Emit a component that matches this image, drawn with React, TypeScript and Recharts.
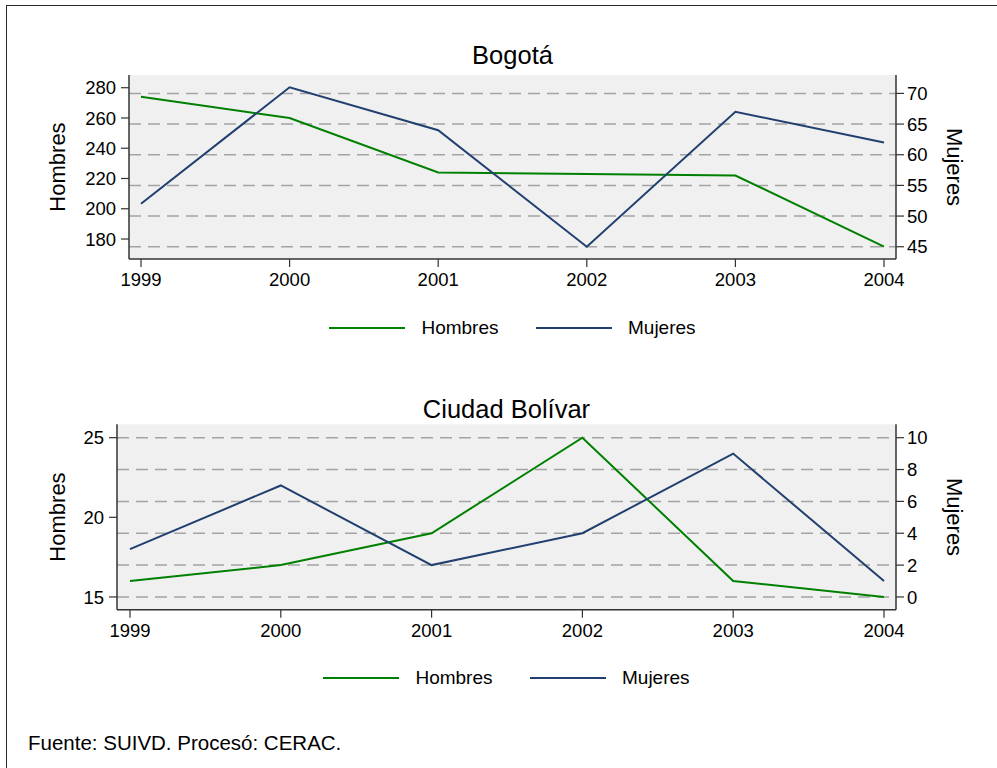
import React from 'react';
import { LineChart, Line, XAxis, YAxis, CartesianGrid, Legend } from 'recharts';

const years = ['1999', '2000', '2001', '2002', '2003', '2004'];
const bogotaHombres = [274, 260, 224, 223, 222, 175];
const bogotaMujeres = [52, 71, 64, 45, 67, 62];
const bolivarHombres = [16, 17, 19, 25, 16, 15];
const bolivarMujeres = [3, 7, 2, 4, 9, 1];

const bogotaLeftTicks = [180, 200, 220, 240, 260, 280];
const bogotaRightTicks = [45, 50, 55, 60, 65, 70];
const bolivarLeftTicks = [15, 20, 25];
const bolivarRightTicks = [0, 2, 4, 6, 8, 10];

const GREEN = '#008000';
const NAVY = '#22406f';
const AXIS = '#333333';
const FONT = '"Liberation Sans", Arial, Helvetica, sans-serif';
const W = 997;
const RIGHT_W = 101;

type PanelProps = {
  top: number;
  title: string;
  titleTop: number;
  hombres: number[];
  mujeres: number[];
  leftTicks: number[];
  rightTicks: number[];
  leftDomain: [number, number];
  rightDomain: [number, number];
  leftWidth: number;
  marginTop: number;
  marginBottom: number;
  xHeight: number;
  padLeft: number;
  padRight: number;
};

const makeLegend = (plotLeft: number, plotRight: number) => (props: any) => {
  const payload = props.payload || [];
  return (
    <div style={{ height: 24, width: W, position: 'relative', fontFamily: FONT, fontSize: 19 }}>
      <div
        style={{
          position: 'absolute',
          left: plotLeft,
          width: plotRight - plotLeft,
          top: 0,
          height: 24,
          display: 'flex',
          justifyContent: 'center',
          alignItems: 'center',
        }}
      >
        {payload.map((p: any, i: number) => (
          <div key={i} style={{ display: 'flex', alignItems: 'center', marginLeft: i ? 37.5 : 0 }}>
            <span style={{ display: 'inline-block', width: 76, height: 2, background: p.color }} />
            <span style={{ marginLeft: 16, color: '#000', lineHeight: '24px', whiteSpace: 'nowrap' }}>{p.value}</span>
          </div>
        ))}
      </div>
    </div>
  );
};

function Panel(p: PanelProps) {
  const data = years.map((y, i) => ({ year: y, Hombres: p.hombres[i], Mujeres: p.mujeres[i] }));
  const plotLeft = p.leftWidth;
  const plotRight = W - RIGHT_W;
  const tickStyle = { fontSize: 18.5, fill: '#000', fontFamily: FONT };
  return (
    <>
      <div
        style={{
          position: 'absolute',
          left: plotLeft,
          width: plotRight - plotLeft,
          top: p.titleTop,
          textAlign: 'center',
          fontFamily: FONT,
          fontSize: 25.5,
          lineHeight: '25.5px',
          color: '#000',
          whiteSpace: 'nowrap',
        }}
      >
        {p.title}
      </div>
      <div style={{ position: 'absolute', left: 0, top: p.top }}>
        <LineChart
          width={W}
          height={350}
          data={data}
          margin={{ top: p.marginTop, right: 0, bottom: p.marginBottom, left: 0 }}
          style={{ fontFamily: FONT }}
        >
          <CartesianGrid
            yAxisId="right"
            vertical={false}
            syncWithTicks
            stroke="#a3a3a3"
            strokeWidth={1.5}
            strokeDasharray="12 7"
            fill="#f0f0f0"
          />
          <XAxis
            dataKey="year"
            type="category"
            height={p.xHeight}
            padding={{ left: p.padLeft, right: p.padRight }}
            tickSize={8}
            tickMargin={6}
            tick={tickStyle}
            axisLine={{ stroke: AXIS, strokeWidth: 1.5 }}
            tickLine={{ stroke: AXIS, strokeWidth: 1.2 }}
            interval={0}
          />
          <YAxis
            yAxisId="left"
            orientation="left"
            type="number"
            width={p.leftWidth}
            domain={p.leftDomain}
            ticks={p.leftTicks}
            allowDataOverflow
            tickSize={8}
            tickMargin={5}
            tick={tickStyle}
            axisLine={{ stroke: AXIS, strokeWidth: 1.5 }}
            tickLine={{ stroke: AXIS, strokeWidth: 1.2 }}
            label={{
              value: 'Hombres',
              angle: -90,
              position: 'center',
              dx: 57 - p.leftWidth / 2,
              fontSize: 22,
              fill: '#000',
              fontFamily: FONT,
            }}
          />
          <YAxis
            yAxisId="right"
            orientation="right"
            type="number"
            width={RIGHT_W}
            domain={p.rightDomain}
            ticks={p.rightTicks}
            allowDataOverflow
            tickSize={8}
            tickMargin={3}
            tick={tickStyle}
            axisLine={{ stroke: AXIS, strokeWidth: 1.5 }}
            tickLine={{ stroke: AXIS, strokeWidth: 1.2 }}
            label={{
              value: 'Mujeres',
              angle: 90,
              position: 'center',
              dx: 955 - (plotRight + RIGHT_W / 2),
              fontSize: 22,
              fill: '#000',
              fontFamily: FONT,
            }}
          />
          <Legend
            verticalAlign="bottom"
            content={makeLegend(plotLeft, plotRight)}
            wrapperStyle={{ left: 0, width: W }}
          />
          <Line
            yAxisId="left"
            type="linear"
            dataKey="Hombres"
            name="Hombres"
            stroke={GREEN}
            strokeWidth={2}
            dot={false}
            activeDot={false}
            isAnimationActive={false}
          />
          <Line
            yAxisId="right"
            type="linear"
            dataKey="Mujeres"
            name="Mujeres"
            stroke={NAVY}
            strokeWidth={2}
            dot={false}
            activeDot={false}
            isAnimationActive={false}
          />
        </LineChart>
      </div>
    </>
  );
}

export default function App() {
  return (
    <div style={{ position: 'relative', width: W, height: 768, overflow: 'hidden', background: '#fff' }}>
      <style>{'body{margin:0;}'}</style>
      <div
        style={{
          position: 'absolute',
          left: 6,
          top: 4.5,
          width: 1100,
          height: 900,
          borderLeft: '1.5px solid #2a2a2a',
          borderTop: '1.5px solid #2a2a2a',
        }}
      />
      <Panel
        top={0}
        title="Bogotá"
        titleTop={43.4}
        hombres={bogotaHombres}
        mujeres={bogotaMujeres}
        leftTicks={bogotaLeftTicks}
        rightTicks={bogotaRightTicks}
        leftDomain={[166.8, 288.4]}
        rightDomain={[43, 73]}
        leftWidth={129}
        marginTop={75}
        marginBottom={10}
        xHeight={57}
        padLeft={12}
        padRight={12}
      />
      <Panel
        top={350}
        title="Ciudad Bolívar"
        titleTop={396.7}
        hombres={bolivarHombres}
        mujeres={bolivarMujeres}
        leftTicks={bolivarLeftTicks}
        rightTicks={bolivarRightTicks}
        leftDomain={[14.2, 25.84]}
        rightDomain={[-0.8, 10.84]}
        leftWidth={117}
        marginTop={74.3}
        marginBottom={9.7}
        xHeight={56.6}
        padLeft={13}
        padRight={12}
      />
      <div
        style={{
          position: 'absolute',
          left: 28,
          top: 732.6,
          fontFamily: FONT,
          fontSize: 20.5,
          lineHeight: '20.5px',
          color: '#000',
          whiteSpace: 'nowrap',
        }}
      >
        Fuente: SUIVD. Procesó: CERAC.
      </div>
    </div>
  );
}
